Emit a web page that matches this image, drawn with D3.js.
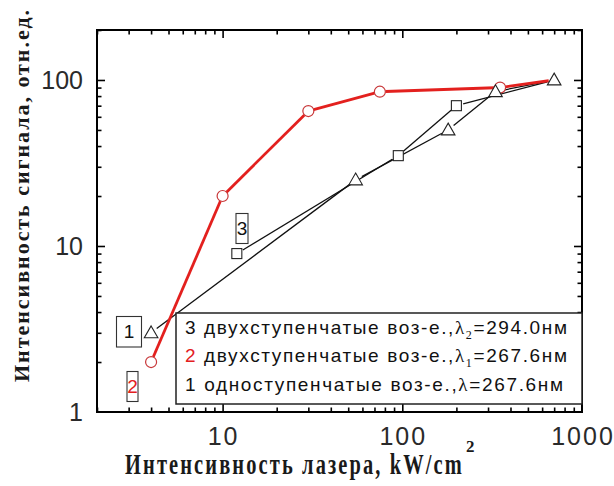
<!DOCTYPE html>
<html>
<head>
<meta charset="utf-8">
<script src="https://cdn.jsdelivr.net/npm/d3@7"></script>
<style>
  html, body { margin: 0; padding: 0; background: #fff; }
  svg { display: block; }
</style>
</head>
<body>
<svg id="chart" width="614" height="486"></svg>
<script>
// Laser intensity (kW/cm^2) vs. signal intensity (arb. units), log-log
const xTickValues = [10, 100, 1000];
const yTickValues = [1, 10, 100];
const xTickLabels = ["10", "100", "1000"];
const yTickLabels = ["1", "10", "100"];

// 1: single-step excitation (triangles)
const intensity1 = [4, 55, 180, 330, 700];
const signal1 = [3, 25, 50, 85, 100];
// 2: two-step excitation, lambda1 (circles, red)
const intensity2 = [4, 10, 30, 75, 350, 700];
const signal2 = [2, 20, 65, 85, 90, 100];
// 3: two-step excitation, lambda2 (squares)
const intensity3 = [12, 95, 200, 700];
const signal3 = [9, 35, 70, 100];

const legendRows = [
  { num: "3", numColor: "#111", text: " двухступенчатые воз-е.,", lam: "λ", sub: "2", tail: "=294.0нм" },
  { num: "2", numColor: "#e3201e", text: " двухступенчатые воз-е.,", lam: "λ", sub: "1", tail: "=267.6нм" },
  { num: "1", numColor: "#111", text: " одноступенчатые воз-е.,", lam: "λ", sub: "", tail: "=267.6нм" }
];

const xTitle = "Интенсивность лазера, kW/cm";
const xTitleSup = "2";
const yTitle = "Интенсивность сигнала, отн.ед.";

const svg = d3.select("#chart");
const plot = { left: 97, right: 582, top: 30, bottom: 412 };

const x = d3.scaleLog().domain([2, 1000]).range([plot.left, plot.right]);
const y = d3.scaleLog().domain([1, 200]).range([plot.bottom, plot.top]);

const isDecade = v => Math.abs(Math.log10(v) - Math.round(Math.log10(v))) < 1e-9;
const xMinor = x.ticks().filter(v => !isDecade(v));
const yMinor = y.ticks().filter(v => !isDecade(v));

// ---- axes: inward ticks on all four sides ----
function drawAxis(gen, scale, values, size, transform) {
  const g = svg.append("g").attr("transform", transform)
    .call(gen(scale).tickValues(values).tickSize(size).tickFormat(""));
  g.select(".domain").remove();
  g.selectAll(".tick line").attr("stroke", "#000").attr("stroke-width", 1.6);
  return g;
}
const majorLen = -8, minorLen = -4.5;
drawAxis(d3.axisBottom, x, xTickValues.filter(v => v < 1000), majorLen, `translate(0,${plot.bottom})`);
drawAxis(d3.axisBottom, x, xMinor, minorLen, `translate(0,${plot.bottom})`);
drawAxis(d3.axisTop, x, xTickValues.filter(v => v < 1000), majorLen, `translate(0,${plot.top})`);
drawAxis(d3.axisTop, x, xMinor, minorLen, `translate(0,${plot.top})`);
drawAxis(d3.axisLeft, y, yTickValues.filter(v => v > 1), majorLen, `translate(${plot.left},0)`);
drawAxis(d3.axisLeft, y, yMinor, minorLen, `translate(${plot.left},0)`);
drawAxis(d3.axisRight, y, yTickValues.filter(v => v > 1), majorLen, `translate(${plot.right},0)`);
drawAxis(d3.axisRight, y, yMinor, minorLen, `translate(${plot.right},0)`);

// tick labels
svg.append("g").selectAll("text").data(xTickValues).join("text")
  .attr("x", d => x(d) + 1)
  .attr("y", 445)
  .attr("text-anchor", "middle")
  .attr("font-family", "Liberation Sans, Arial, sans-serif")
  .attr("font-size", 25)
  .attr("letter-spacing", 2)
  .attr("fill", "#2a2a2a")
  .text((d, i) => xTickLabels[i]);

svg.append("g").selectAll("text").data(yTickValues).join("text")
  .attr("x", 83)
  .attr("y", d => y(d) + 9)
  .attr("text-anchor", "end")
  .attr("font-family", "Liberation Sans, Arial, sans-serif")
  .attr("font-size", 25)
  .attr("fill", "#2a2a2a")
  .text((d, i) => yTickLabels[i]);

// ---- series lines with gaps around markers ----
function gappedSegments(xs, ys, gap) {
  const pts = xs.map((v, i) => [x(v), y(ys[i])]);
  const segs = [];
  for (let i = 0; i < pts.length - 1; i++) {
    const [x0, y0] = pts[i], [x1, y1] = pts[i + 1];
    const len = Math.hypot(x1 - x0, y1 - y0);
    const ux = (x1 - x0) / len, uy = (y1 - y0) / len;
    segs.push([[x0 + ux * gap, y0 + uy * gap], [x1 - ux * gap, y1 - uy * gap]]);
  }
  return segs;
}
const line = d3.line();

function drawLines(xs, ys, gap, color, width) {
  svg.append("g").selectAll("path").data(gappedSegments(xs, ys, gap)).join("path")
    .attr("d", d => line(d))
    .attr("fill", "none")
    .attr("stroke", color)
    .attr("stroke-width", width)
    .attr("stroke-linecap", "butt");
}
drawLines(intensity3, signal3, 7, "#111", 1.3);
drawLines(intensity1, signal1, 7, "#111", 1.3);
drawLines(intensity2, signal2, 5.5, "#e3201e", 2.8);

// markers
const pts2 = intensity2.map((v, i) => [v, signal2[i]]);
const pts3 = intensity3.map((v, i) => [v, signal3[i]]);
const pts1 = intensity1.map((v, i) => [v, signal1[i]]);

svg.append("g").selectAll("circle").data(pts2.slice(0, -1)).join("circle")
  .attr("cx", d => x(d[0])).attr("cy", d => y(d[1])).attr("r", 5.5)
  .attr("fill", "#fff").attr("stroke", "#c8383a").attr("stroke-width", 1.2);

svg.append("g").selectAll("rect").data(pts3.slice(0, -1)).join("rect")
  .attr("x", d => x(d[0]) - 5).attr("y", d => y(d[1]) - 5)
  .attr("width", 10).attr("height", 10)
  .attr("fill", "#fff").attr("stroke", "#222").attr("stroke-width", 1.1);

const tri = d3.symbol().type(d3.symbolTriangle).size(80);
svg.append("g").selectAll("path").data(pts1).join("path")
  .attr("d", tri)
  .attr("transform", d => `translate(${x(d[0])},${y(d[1]) + 1})`)
  .attr("fill", "#fff").attr("stroke", "#222").attr("stroke-width", 1.1);

// ---- frame ----
svg.append("rect")
  .attr("x", plot.left).attr("y", plot.top)
  .attr("width", plot.right - plot.left).attr("height", plot.bottom - plot.top)
  .attr("fill", "none").attr("stroke", "#000").attr("stroke-width", 2);

// ---- legend ----
const legend = svg.append("g");
legend.append("rect")
  .attr("x", 176).attr("y", 313).attr("width", plot.right - 176).attr("height", 91)
  .attr("fill", "#fff").attr("stroke", "#222").attr("stroke-width", 1.5);

const rowBase = [334, 362.3, 390.6];
const rowWidth = [382, 382, 378];
legendRows.forEach((r, i) => {
  const t = legend.append("text")
    .attr("x", 185).attr("y", rowBase[i])
    .attr("font-family", "Liberation Sans, Arial, sans-serif")
    .attr("font-size", 19)
    .attr("fill", "#111")
    .attr("textLength", rowWidth[i])
    .attr("lengthAdjust", "spacing");
  t.append("tspan").attr("fill", r.numColor).text(r.num);
  t.append("tspan").text(r.text);
  t.append("tspan").attr("font-family", "Liberation Serif, Times New Roman, serif").text(r.lam);
  if (r.sub) {
    t.append("tspan").attr("font-family", "Liberation Serif, Times New Roman, serif")
      .attr("font-size", 12).attr("dy", 5).text(r.sub);
    t.append("tspan").attr("dy", -5).text(r.tail);
  } else {
    t.append("tspan").text(r.tail);
  }
});

// ---- series number boxes ----
const numBoxes = [
  { label: "1", color: "#111", bx: 116.5, by: 316.5, bw: 25, bh: 30.5 },
  { label: "2", color: "#e3201e", bx: 127, by: 371.5, bw: 11, bh: 30 },
  { label: "3", color: "#111", bx: 236, by: 213.5, bw: 12, bh: 30 }
];
numBoxes.forEach(b => {
  svg.append("rect").attr("x", b.bx).attr("y", b.by).attr("width", b.bw).attr("height", b.bh)
    .attr("fill", "#fff").attr("stroke", "#333").attr("stroke-width", 1.1);
  svg.append("text").attr("x", b.bx + b.bw / 2).attr("y", b.by + 21.5)
    .attr("text-anchor", "middle")
    .attr("font-family", "Liberation Sans, Arial, sans-serif")
    .attr("font-size", 19).attr("fill", b.color).text(b.label);
});

// ---- axis titles ----
const xt = svg.append("text")
  .attr("x", 0).attr("y", 0)
  .attr("font-family", "Liberation Serif, Times New Roman, serif")
  .attr("font-weight", "bold").attr("font-size", 29)
  .attr("letter-spacing", 3)
  .attr("fill", "#1a1a1a")
  .text(xTitle);
const xtW = xt.node().getComputedTextLength();
const xtTarget = 339;
xt.attr("transform", `translate(125,473.5) scale(${xtTarget / xtW},1)`);
svg.append("text")
  .attr("x", 466).attr("y", 452)
  .attr("font-family", "Liberation Serif, Times New Roman, serif")
  .attr("font-weight", "bold").attr("font-size", 17)
  .attr("fill", "#1a1a1a")
  .text(xTitleSup);

svg.append("text")
  .attr("transform", "translate(29,196) rotate(-90)")
  .attr("text-anchor", "middle")
  .attr("font-family", "Liberation Serif, Times New Roman, serif")
  .attr("font-weight", "bold").attr("font-size", 22)
  .attr("fill", "#1a1a1a")
  .attr("textLength", 372).attr("lengthAdjust", "spacing")
  .text(yTitle);
</script>
</body>
</html>
